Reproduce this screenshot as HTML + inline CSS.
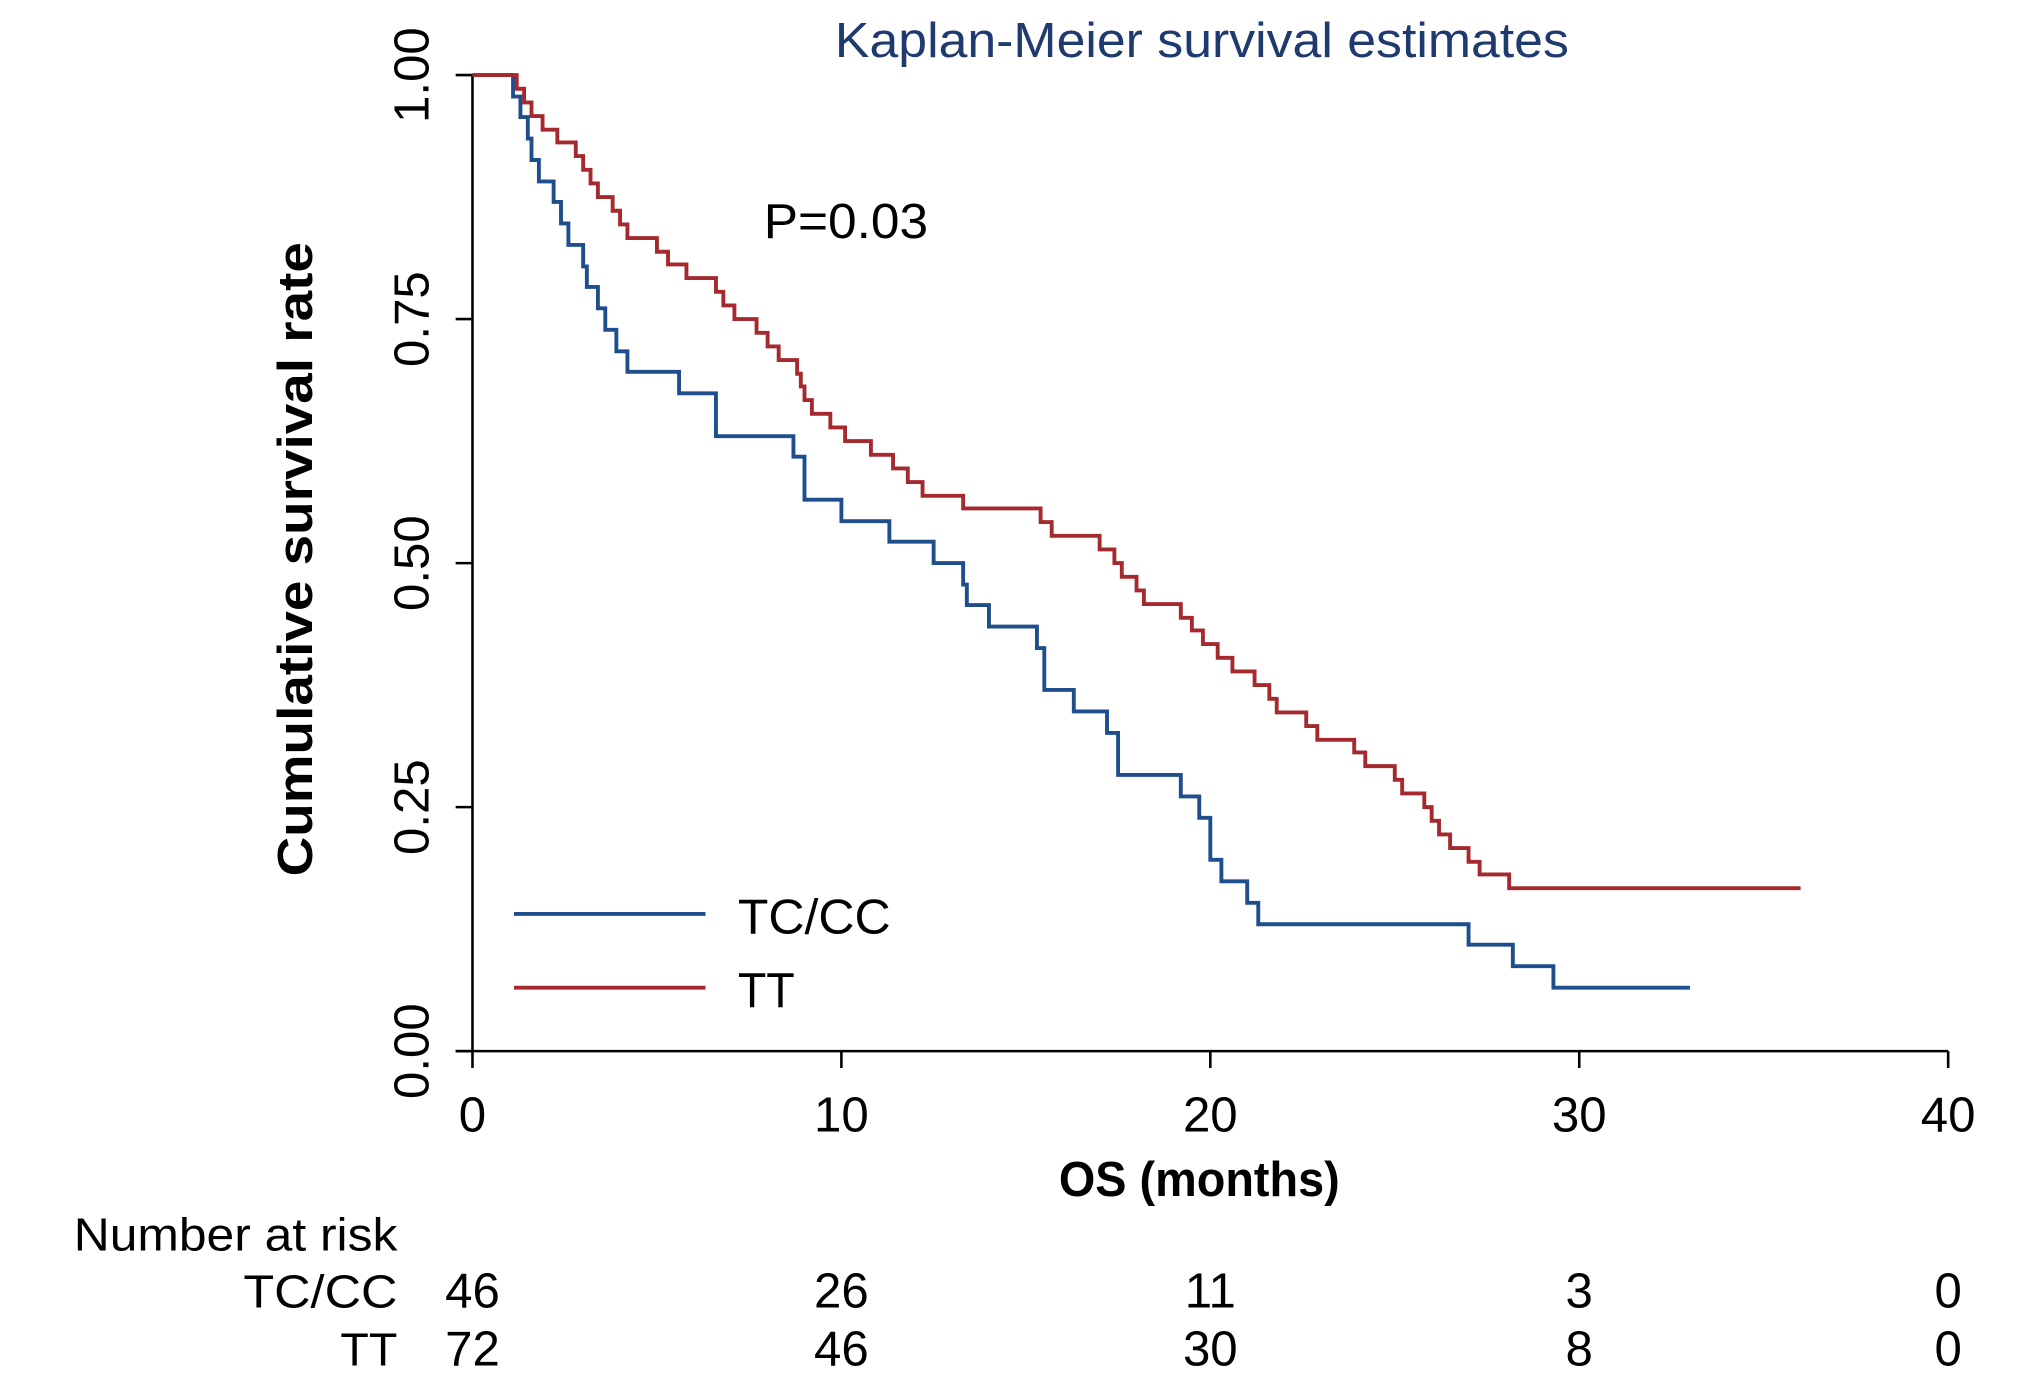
<!DOCTYPE html>
<html><head><meta charset="utf-8"><style>
html,body{margin:0;padding:0;background:#fff;}
svg{display:block;font-family:"Liberation Sans",Arial,sans-serif;}
</style></head><body>
<svg id="chart" width="2031" height="1389" viewBox="0 0 1569 1073" preserveAspectRatio="none" xmlns="http://www.w3.org/2000/svg">
<rect width="1569" height="1073" fill="#fff"/>
<text x="645" y="44" font-size="38" fill="#1f3a6e" textLength="567" lengthAdjust="spacingAndGlyphs">Kaplan-Meier survival estimates</text>
<text transform="translate(241,432) rotate(-90)" font-size="38" font-weight="bold" text-anchor="middle" textLength="490" lengthAdjust="spacingAndGlyphs">Cumulative survival rate</text>
<text x="818" y="924" font-size="38" font-weight="bold" textLength="217" lengthAdjust="spacingAndGlyphs">OS (months)</text>
<text x="590" y="184" font-size="38" textLength="127" lengthAdjust="spacingAndGlyphs">P=0.03</text>
<g id="axes"></g>
<g id="series"></g>
<g>
<line x1="397" y1="706" x2="545" y2="706" stroke="#1f4e8c" stroke-width="3"/>
<text x="570" y="721" font-size="38" textLength="118" lengthAdjust="spacingAndGlyphs">TC/CC</text>
<line x1="397" y1="763" x2="545" y2="763" stroke="#a52a2f" stroke-width="3"/>
<text x="570" y="778" font-size="38" textLength="44" lengthAdjust="spacingAndGlyphs">TT</text>
</g>
<text x="57" y="966" font-size="36" textLength="250" lengthAdjust="spacingAndGlyphs">Number at risk</text>
<text x="188" y="1010" font-size="36" textLength="119" lengthAdjust="spacingAndGlyphs">TC/CC</text>
<text x="263" y="1055" font-size="36" textLength="44" lengthAdjust="spacingAndGlyphs">TT</text>
<g id="risk"></g>
</svg>
<script>
const xTicks=[0,10,20,30,40];
const yTicks=[0,0.25,0.5,0.75,1];
const yTickLabels=["0.00","0.25","0.50","0.75","1.00"];
const tcccTimes=[0,1.1,1.3,1.5,1.6,1.8,2.2,2.4,2.6,3.0,3.1,3.4,3.6,3.9,4.2,5.6,6.6,8.7,9.0,10.0,11.3,12.5,13.3,13.4,14.0,15.3,15.5,16.3,17.2,17.5,19.2,19.7,20.0,20.3,21.0,21.3,27.0,28.2,29.3];
const tcccSurv=[1,0.978,0.957,0.935,0.913,0.891,0.870,0.848,0.826,0.804,0.783,0.761,0.739,0.717,0.696,0.674,0.630,0.609,0.565,0.543,0.522,0.500,0.478,0.457,0.435,0.413,0.370,0.348,0.326,0.283,0.261,0.239,0.196,0.174,0.152,0.130,0.109,0.087,0.065];
const tcccEnd=33.0;
const ttTimes=[0,1.2,1.4,1.6,1.9,2.3,2.8,3.0,3.2,3.4,3.8,4.0,4.2,5.0,5.3,5.8,6.6,6.8,7.1,7.7,8.0,8.3,8.8,8.9,9.0,9.2,9.7,10.1,10.8,11.4,11.8,12.2,13.3,15.4,15.7,17.0,17.4,17.6,18.0,18.2,19.2,19.5,19.8,20.2,20.6,21.2,21.6,21.8,22.6,22.9,23.9,24.2,25.0,25.2,25.8,26.0,26.2,26.5,27.0,27.3,28.1];
const ttSurv=[1,0.986,0.972,0.958,0.944,0.931,0.917,0.903,0.889,0.875,0.861,0.847,0.833,0.819,0.806,0.792,0.778,0.764,0.750,0.736,0.722,0.708,0.694,0.681,0.667,0.653,0.639,0.625,0.611,0.597,0.583,0.569,0.556,0.542,0.528,0.514,0.500,0.486,0.472,0.458,0.444,0.431,0.417,0.403,0.389,0.375,0.361,0.347,0.333,0.319,0.306,0.292,0.278,0.264,0.250,0.236,0.222,0.208,0.194,0.181,0.167];
const ttEnd=36.0;
const riskTimes=[0,10,20,30,40];
const riskTccc=[46,26,11,3,0];
const riskTT=[72,46,30,8,0];

const NS="http://www.w3.org/2000/svg";
const X=t=>365+t*28.5;
const Y=s=>812-s*754;
function mk(tag,attrs,parent){const e=document.createElementNS(NS,tag);for(const k in attrs)e.setAttribute(k,attrs[k]);parent.appendChild(e);return e;}
const axes=document.getElementById('axes');
let yax=mk('line',{x1:X(0),y1:Y(1),x2:X(0),y2:Y(0),stroke:'#000','stroke-width':2},axes);


let xax=mk('line',{x1:X(0)-13,y1:Y(0),x2:X(40),y2:Y(0),stroke:'#000','stroke-width':2},axes);


yTicks.forEach((v,i)=>{
  const tk=mk('line',{x1:X(0)-13,y1:Y(v),x2:X(0),y2:Y(v),stroke:'#000','stroke-width':2},axes);
  
  
  const tx=mk('text',{transform:`translate(331,${Y(v)}) rotate(-90)`,'font-size':38,'text-anchor':'middle'},axes);
  tx.textContent=yTickLabels[i];
  
  
});
xTicks.forEach(v=>{
  const tk=mk('line',{x1:X(v),y1:Y(0),x2:X(v),y2:Y(0)+13,stroke:'#000','stroke-width':2},axes);
  
  
  const tx=mk('text',{x:X(v),y:874,'font-size':38,'text-anchor':'middle'},axes);
  tx.textContent=v;
  
  
});
function stepPath(ts,ss,end){
  let d=`M${X(ts[0])},${Y(ss[0])}`;
  for(let i=1;i<ts.length;i++){d+=` H${X(ts[i])} V${Y(ss[i])}`;}
  d+=` H${X(end)}`;return d;
}
const ser=document.getElementById('series');
const p1=mk('path',{d:stepPath(tcccTimes,tcccSurv,tcccEnd),fill:'none',stroke:'#1f4e8c','stroke-width':3},ser);


const p2=mk('path',{d:stepPath(ttTimes,ttSurv,ttEnd),fill:'none',stroke:'#a52a2f','stroke-width':3},ser);


const risk=document.getElementById('risk');
riskTimes.forEach((t,i)=>{
  const a=mk('text',{x:X(t),y:1010,'font-size':38,'text-anchor':'middle'},risk);
  a.textContent=riskTccc[i];
  
  
  const b=mk('text',{x:X(t),y:1055,'font-size':38,'text-anchor':'middle'},risk);
  b.textContent=riskTT[i];
  
  
});
</script>
</body></html>
